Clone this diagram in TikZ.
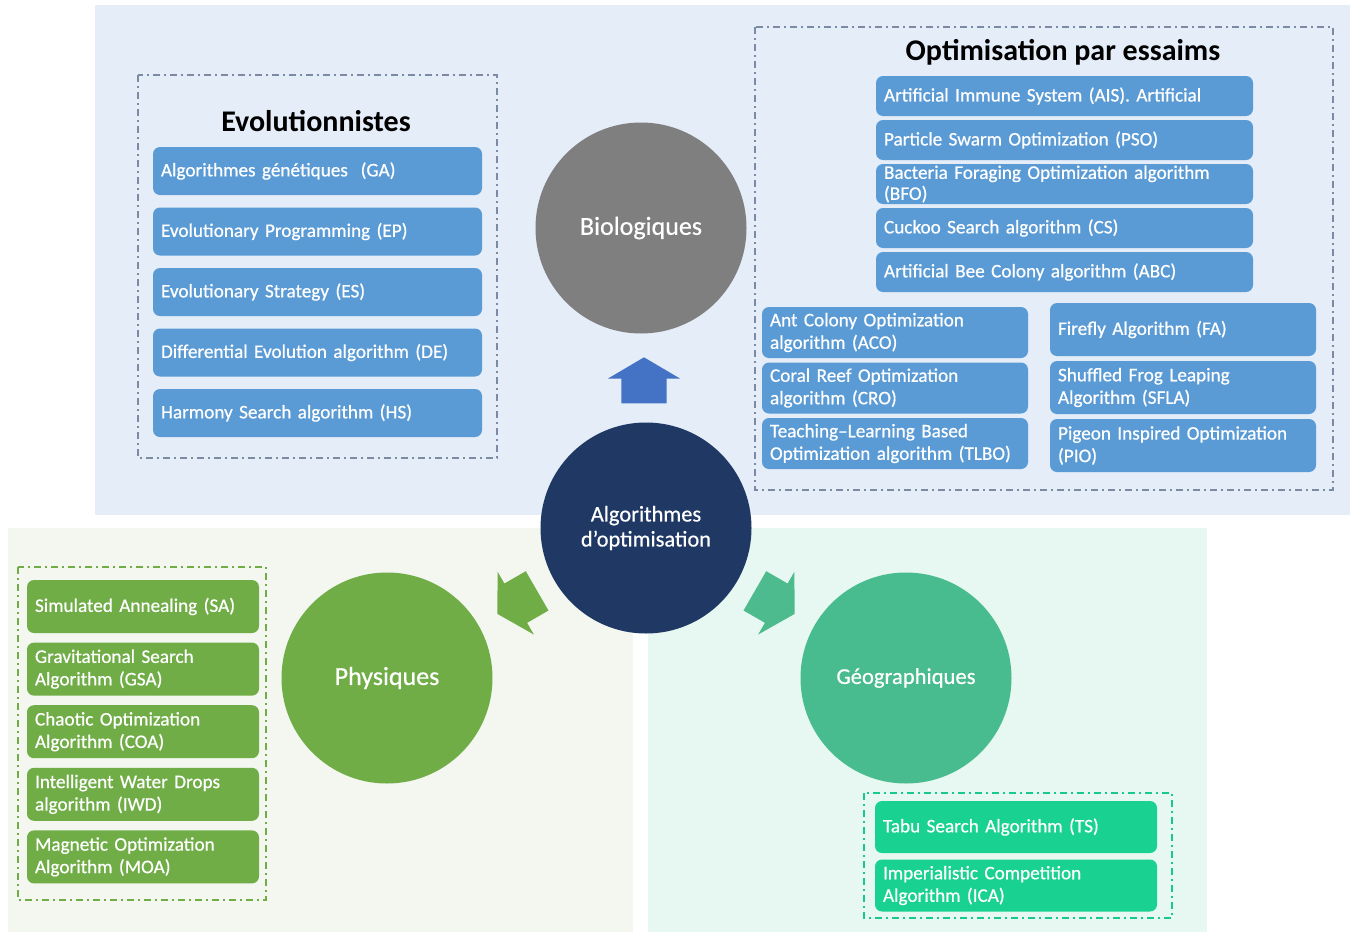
\documentclass[tikz,border=0pt]{standalone}
\usepackage{fontspec}
\setmainfont{Carlito}
\newfontfamily\semifont{Carlito}[FakeBold=0.6]
\usepackage{xcolor}
\usepackage{tikz}
\usetikzlibrary{shapes,arrows}

\definecolor{panelblue}{HTML}{E4EDF8}
\definecolor{panelgreen}{HTML}{F3F7EF}
\definecolor{panelteal}{HTML}{E6F8F1}
\definecolor{boxblue}{HTML}{5B9BD5}
\definecolor{boxgreen}{HTML}{70AD47}
\definecolor{boxteal}{HTML}{19D291}
\definecolor{framegray}{HTML}{7A8BA3}
\definecolor{framegreen}{HTML}{70AD47}
\definecolor{frameteal}{HTML}{19C98B}
\definecolor{discgray}{HTML}{7F7F7F}
\definecolor{discnavy}{HTML}{203864}
\definecolor{discgreen}{HTML}{70AD47}
\definecolor{discteal}{HTML}{48BB8F}
\definecolor{arrowblue}{HTML}{4472C4}
\definecolor{arrowteal}{HTML}{4DBB8E}

\newcommand{\boxfont}{\semifont\fontsize{19.2}{22.5}\selectfont}

\begin{document}
\begin{tikzpicture}[x=1pt, y=-1pt, node distance = 60.5pt, auto]
	\tikzstyle{frame} = [draw, line width=1.4pt, dash pattern=on 7pt off 4pt on 2pt off 4pt]
	\tikzstyle{block} = [rectangle, text=white, rounded corners=7pt, inner xsep=8pt, align=left, font=\boxfont]
	\tikzstyle{evobox} = [block, fill=boxblue, text width=313pt, minimum height=48pt]
	\tikzstyle{swarmbox} = [block, fill=boxblue, text width=361pt, minimum height=40pt, inner ysep=0pt,
		font=\boxfont\fontsize{19.2}{21}\selectfont]
	\tikzstyle{pairbox} = [block, fill=boxblue, text width=250pt, minimum height=51pt, inner ysep=1pt]
	\tikzstyle{physbox} = [block, fill=boxgreen, text width=216pt, minimum height=53pt]
	\tikzstyle{geobox} = [block, fill=boxteal, text width=266pt, minimum height=52pt]
	\tikzstyle{title} = [font=\bfseries\fontsize{30}{36}\selectfont]
	\tikzstyle{disc} = [circle, minimum size=211pt, inner sep=0pt, text=white, align=center]
	\tikzstyle{bigarrow} = [single arrow, minimum height=46pt, minimum width=72pt, inner xsep=0pt, inner ysep=22.5pt,
		single arrow head extend=13.5pt, single arrow tip angle=119]

	\useasboundingbox [fill=white] (0,0) rectangle (1352,932);
	% Background panels
	\fill [panelblue] (95,5) rectangle (1350,515);
	\fill [panelgreen] (8,528) rectangle (633,932);
	\fill [panelteal] (648,528) rectangle (1207,932);
	\draw [frame, framegray] (138,75) rectangle (497,458);
	\draw [frame, framegray] (755,27) rectangle (1333,490);
	\draw [frame, framegreen] (18,567) rectangle (266,900);
	\draw [frame, frameteal] (864,793) rectangle (1172,918);

	% Place nodes
	\node [title] (evoTitle) at (316,121) {Evolutionnistes};
	\node [evobox] (ga) at (317.5,171) {Algorithmes génétiques~ (GA)};
	\node [evobox, below of=ga] (ep) {Evolutionary Programming (EP)};
	\node [evobox, below of=ep] (es) {Evolutionary Strategy (ES)};
	\node [evobox, below of=es] (de) {Differential Evolution algorithm (DE)};
	\node [evobox, below of=de] (hs) {Harmony Search algorithm (HS)};

	\node [title] (swarmTitle) at (1063,52) {Optimisation par essaims};
	\node [swarmbox] (ais) at (1064.5,96) {Artificial Immune System (AIS). Artificial};
	\node [swarmbox, below of=ais, node distance=44pt] (pso) {Particle Swarm Optimization (PSO)};
	\node [swarmbox, below of=pso, node distance=44pt] (bfo) {Bacteria Foraging Optimization algorithm\\(BFO)};
	\node [swarmbox, below of=bfo, node distance=44pt] (cs) {Cuckoo Search algorithm (CS)};
	\node [swarmbox, below of=cs, node distance=44pt] (abc) {Artificial Bee Colony algorithm (ABC)};

	\node [pairbox] (aco) at (895,332.5) {Ant Colony Optimization\\algorithm (ACO)};
	\node [pairbox, below of=aco, node distance=55.5pt] (cro) {Coral Reef Optimization\\algorithm (CRO)};
	\node [pairbox, below of=cro, node distance=55.5pt] (tlbo) {Teaching–Learning Based\\Optimization algorithm (TLBO)};
	\node [pairbox, minimum height=53pt] (fa) at (1183,329.5) {Firefly Algorithm (FA)};
	\node [pairbox, minimum height=53pt, below of=fa, node distance=58pt] (sfla) {Shuffled Frog Leaping\\Algorithm (SFLA)};
	\node [pairbox, minimum height=53pt, below of=sfla, node distance=58pt] (pio) {Pigeon Inspired Optimization\\(PIO)};

	\node [physbox] (sa) at (143,606.5) {Simulated Annealing (SA)};
	\node [physbox, below of=sa, node distance=62.6pt] (gsa) {Gravitational Search\\Algorithm (GSA)};
	\node [physbox, below of=gsa, node distance=62.6pt] (coa) {Chaotic Optimization\\Algorithm (COA)};
	\node [physbox, below of=coa, node distance=62.6pt] (iwd) {Intelligent Water Drops\\algorithm (IWD)};
	\node [physbox, below of=iwd, node distance=62.6pt] (moa) {Magnetic Optimization\\Algorithm (MOA)};

	\node [geobox] (ts) at (1016,827) {Tabu Search Algorithm (TS)};
	\node [geobox, below of=ts, node distance=58.5pt] (ica) {Imperialistic Competition\\Algorithm (ICA)};

	% Circles
	\node [disc, fill=discgray, font=\semifont\fontsize{26}{30}\selectfont] (bio) at (641,228) {Biologiques};
	\node [disc, fill=discnavy, font=\semifont\fontsize{22.4}{25}\selectfont] (algo) at (646,528) {Algorithmes\\d’optimisation};
	\node [disc, fill=discgreen, font=\semifont\fontsize{26}{30}\selectfont] (phys) at (387,678) {Physiques};
	\node [disc, fill=discteal, font=\semifont\fontsize{22.6}{26}\selectfont] (geo) at (906,678) {Géographiques};

	% Block arrows
	\node [bigarrow, fill=arrowblue, rotate=90] (toBio) at (644,387) {};
	\node [bigarrow, fill=discgreen, rotate=210] (toPhys) at (523,599) {};
	\node [bigarrow, fill=arrowteal, rotate=-30] (toGeo) at (769,599) {};
\end{tikzpicture}
\end{document}
